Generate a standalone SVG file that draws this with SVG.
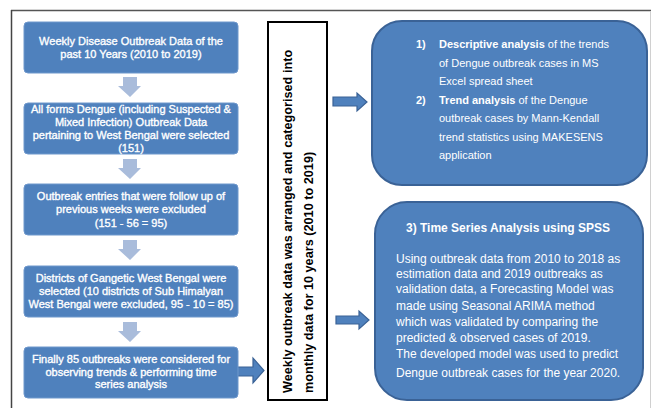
<svg xmlns="http://www.w3.org/2000/svg" width="657" height="408" viewBox="0 0 657 408">
<defs>
<style>
.lbox{fill:#4F81BD;stroke:#6F98CC;stroke-width:1}
.rbox{fill:#4F81BD;stroke:#3A6296;stroke-width:2}
.down{fill:#A9BCDB}
.rarr{fill:#4F81BD;stroke:#3A6296;stroke-width:1.2}
.lt{font-family:"Liberation Sans",Arial,sans-serif;font-size:11px;fill:#fff;stroke:#fff;stroke-width:0.35;text-anchor:middle}
.rt{font-family:"Liberation Sans",Arial,sans-serif;font-size:11px;fill:#fff}
.bt{font-family:"Liberation Sans",Arial,sans-serif;font-size:12px;fill:#fff}
.b{font-weight:bold}
.vt{font-family:"Liberation Sans",Arial,sans-serif;font-size:12.7px;font-weight:bold;fill:#000}
</style>
</defs>
<rect width="657" height="408" fill="#fff"/>
<g id="frame">
<line x1="11" y1="10.5" x2="651" y2="10.5" stroke="#555" stroke-width="1.5"/>
<line x1="11.5" y1="10" x2="11.5" y2="408" stroke="#444" stroke-width="1.5"/>
<line x1="650.5" y1="11" x2="650.5" y2="408" stroke="#d0d0d0" stroke-width="1"/>
</g>
<g id="connectors">
<path class="down" d="M123,77 H137 V86 H141 L130,97 L118,86 H123 Z"/>
<path class="down" d="M123,159 H137 V168 H141 L130,179 L118,168 H123 Z"/>
<path class="down" d="M123,240 H137 V249 H141 L130,260 L118,249 H123 Z"/>
<path class="down" d="M123,322 H137 V331 H141 L130,342 L118,331 H123 Z"/>
<path class="rarr" d="M236,367 H253 V358 L264,370.5 L253,383 V376 H236 Z"/>
<path class="rarr" d="M333,97 H357 V93 L367,102 L357,111 V106 H333 Z"/>
<path class="rarr" d="M336,316 H359 V311 L369,320 L359,329 V324 H336 Z"/>
</g>
<g id="n1">
<rect class="lbox" x="24" y="22" width="214" height="51" rx="4"/>
<text class="lt" x="131" y="45">Weekly Disease Outbreak Data of the</text>
<text class="lt" x="131" y="58">past 10 Years (2010 to 2019)</text>
</g>
<g id="n2">
<rect class="lbox" x="24" y="103" width="214" height="51" rx="4"/>
<text class="lt" x="131" y="113">All forms Dengue (including Suspected &amp;</text>
<text class="lt" x="131" y="126">Mixed Infection) Outbreak Data</text>
<text class="lt" x="131" y="139">pertaining to West Bengal were selected</text>
<text class="lt" x="131" y="152">(151)</text>
</g>
<g id="n3">
<rect class="lbox" x="24" y="184" width="214" height="51" rx="4"/>
<text class="lt" x="131" y="200">Outbreak entries that were follow up of</text>
<text class="lt" x="131" y="213">previous weeks were excluded</text>
<text class="lt" x="131" y="227">(151 - 56 = 95)</text>
</g>
<g id="n4">
<rect class="lbox" x="24" y="266" width="214" height="51" rx="4"/>
<text class="lt" x="131" y="282">Districts of Gangetic West Bengal were</text>
<text class="lt" x="131" y="295">selected (10 districts of Sub Himalyan</text>
<text class="lt" x="131" y="308">West Bengal were excluded, 95 - 10 = 85)</text>
</g>
<g id="n5">
<rect class="lbox" x="24" y="347" width="214" height="51" rx="4"/>
<text class="lt" x="131" y="363">Finally 85 outbreaks were considered for</text>
<text class="lt" x="131" y="376">observing trends &amp; performing time</text>
<text class="lt" x="131" y="388">series analysis</text>
</g>
<g id="n6">
<rect x="268" y="22" width="59" height="378" fill="#fff" stroke="#000" stroke-width="2"/>
<text class="vt" transform="translate(292,393) rotate(-90)">Weekly outbreak data was arranged and categorised into</text>
<text class="vt" transform="translate(313,393) rotate(-90)">monthly data for 10 years (2010 to 2019)</text>
</g>
<g id="n7">
<rect class="rbox" x="372" y="21" width="275" height="164" rx="30"/>
<text class="rt b" x="416" y="48">1)</text>
<text class="rt" x="439" y="48"><tspan class="b">Descriptive analysis</tspan> of the trends</text>
<text class="rt" x="439" y="67">of Dengue outbreak cases in MS</text>
<text class="rt" x="439" y="85">Excel spread sheet</text>
<text class="rt b" x="416" y="104">2)</text>
<text class="rt" x="439" y="104"><tspan class="b">Trend analysis</tspan> of the Dengue</text>
<text class="rt" x="439" y="122">outbreak cases by Mann-Kendall</text>
<text class="rt" x="439" y="141">trend statistics using MAKESENS</text>
<text class="rt" x="439" y="159">application</text>
</g>
<g id="n8">
<rect class="rbox" x="375" y="202" width="268" height="198" rx="32"/>
<text class="bt b" x="508" y="232" text-anchor="middle">3) Time Series Analysis using SPSS</text>
<text class="bt" x="396" y="263">Using outbreak data from 2010 to 2018 as</text>
<text class="bt" x="396" y="278">estimation data and 2019 outbreaks as</text>
<text class="bt" x="396" y="293">validation data, a Forecasting Model was</text>
<text class="bt" x="396" y="310">made using Seasonal ARIMA method</text>
<text class="bt" x="396" y="326">which was validated by comparing the</text>
<text class="bt" x="396" y="342">predicted &amp; observed cases of 2019.</text>
<text class="bt" x="396" y="358">The developed model was used to predict</text>
<text class="bt" x="396" y="377">Dengue outbreak cases for the year 2020.</text>
</g>
</svg>
